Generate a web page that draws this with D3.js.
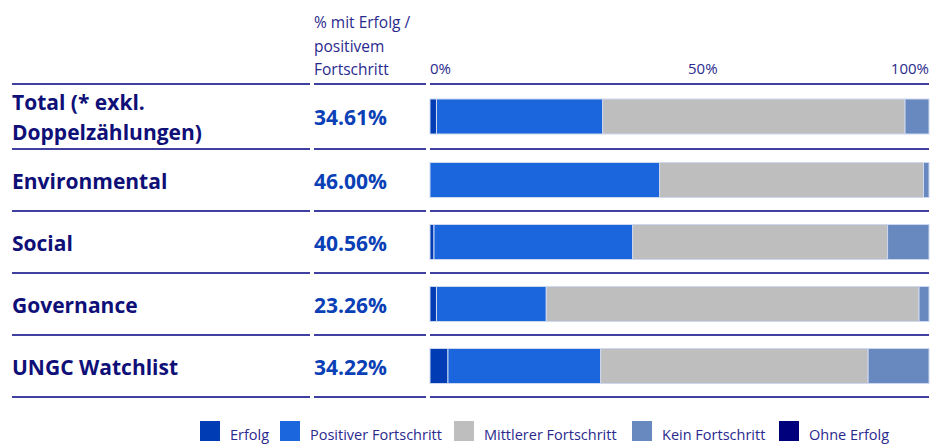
<!DOCTYPE html>
<html>
<head>
<meta charset="utf-8">
<script src="https://cdn.jsdelivr.net/npm/d3@7"></script>
<style>
  body { margin: 0; background: #fff; }
  svg text { font-family: "Open Sans", sans-serif; }
</style>
</head>
<body>
<div id="chart"></div>
<script>
// data
const categories = ["Total (* exkl. Doppelzählungen)", "Environmental", "Social", "Governance", "UNGC Watchlist"];
const categoryLines = [["Total (* exkl.", "Doppelzählungen)"], ["Environmental"], ["Social"], ["Governance"], ["UNGC Watchlist"]];
const rateLabels = ["34.61%", "46.00%", "40.56%", "23.26%", "34.22%"];
const seriesNames = ["Erfolg", "Positiver Fortschritt", "Mittlerer Fortschritt", "Kein Fortschritt", "Ohne Erfolg"];
const erfolg = [1.3, 0, 0.8, 1.3, 3.6];
const positiver = [33.3, 46.0, 39.8, 22.0, 30.6];
const mittlerer = [60.6, 52.9, 51.1, 74.7, 53.6];
const kein = [4.8, 1.1, 8.3, 2.0, 12.2];
const ohne = [0, 0, 0, 0, 0];
const tickValues = [0, 50, 100];
const tickLabels = ["0%", "50%", "100%"];
const headerLines = ["% mit Erfolg /", "positivem", "Fortschritt"];

const colors = ["#003db5", "#1b66dd", "#bebebe", "#6789bf", "#00007d"];
const navy = "#000080";

const width = 946, height = 444;
const svg = d3.select("#chart").append("svg")
  .attr("width", width).attr("height", height);

const rows = categories.map((c, i) => ({
  name: c,
  lines: categoryLines[i],
  rate: rateLabels[i],
  "Erfolg": erfolg[i],
  "Positiver Fortschritt": positiver[i],
  "Mittlerer Fortschritt": mittlerer[i],
  "Kein Fortschritt": kein[i],
  "Ohne Erfolg": ohne[i]
}));

// row boundaries (first row is taller for the two-line label)
const rowHeights = [65, 62, 62, 62, 62];
const tableTop = 84;
const rowTop = [];
let acc = tableTop;
rowHeights.forEach(h => { rowTop.push(acc); acc += h; });
const rowCenter = rowTop.map((t, i) => t + rowHeights[i] / 2);
const barH = 35;

const x = d3.scaleLinear().domain([0, 100]).range([430, 929]);
const color = d3.scaleOrdinal().domain(seriesNames).range(colors);

// header
svg.append("g").selectAll("text")
  .data(headerLines).join("text")
  .attr("x", 314).attr("y", (d, i) => 28 + i * 23.5)
  .attr("font-size", 15.5).attr("fill", "#2a2a8e")
  .text(d => d);

// axis labels
svg.append("g").selectAll("text")
  .data(tickValues).join("text")
  .attr("x", (d, i) => i === 1 ? x(d) + 8.5 : x(d))
  .attr("y", 74)
  .attr("text-anchor", (d, i) => i === 2 ? "end" : "start")
  .attr("font-size", 15).attr("fill", "#2a2a8e")
  .text((d, i) => tickLabels[i]);

// separator lines
const cols = [[12, 310], [314, 426], [430, 929]];
const lineYs = [tableTop, ...rowTop.map((t, i) => t + rowHeights[i])];
const lg = svg.append("g");
lineYs.forEach(y => {
  cols.forEach(c => {
    lg.append("line")
      .attr("x1", c[0]).attr("x2", c[1])
      .attr("y1", y).attr("y2", y)
      .attr("stroke", navy).attr("stroke-width", 1.5);
  });
});

// category labels
const labels = svg.append("g").selectAll("text")
  .data(rows).join("text")
  .attr("x", 12)
  .attr("font-size", 21).attr("font-weight", 700).attr("fill", "#0f0f78");
labels.each(function(d, i) {
  const t = d3.select(this);
  const n = d.lines.length;
  d.lines.forEach((l, j) => {
    t.append("tspan")
      .attr("x", 12)
      .attr("y", rowCenter[i] + 8.5 + (j - (n - 1) / 2) * 30)
      .text(l);
  });
});

// rate values
svg.append("g").selectAll("text")
  .data(rows).join("text")
  .attr("x", 314).attr("y", (d, i) => rowCenter[i] + 8.5)
  .attr("font-size", 21).attr("font-weight", 700).attr("fill", "#0a40b6")
  .text(d => d.rate);

// stacked bars
const stacked = d3.stack().keys(seriesNames)(rows);
svg.append("g").selectAll("g")
  .data(stacked).join("g")
  .attr("fill", d => color(d.key))
  .selectAll("rect")
  .data(d => d.map((v, i) => ({ v, i })).filter(o => o.v[1] - o.v[0] > 0))
  .join("rect")
  .attr("x", o => x(o.v[0]))
  .attr("width", o => x(o.v[1]) - x(o.v[0]))
  .attr("y", o => rowCenter[o.i] - barH / 2)
  .attr("height", barH)
  .attr("stroke", "#cdd8ef").attr("stroke-width", 1);

// legend (swatch positions as in the original layout)
const legendX = [200, 280, 454, 632, 779];
const legend = svg.append("g").selectAll("g")
  .data(seriesNames).join("g")
  .attr("transform", (d, i) => `translate(${legendX[i]},421)`);
legend.append("rect")
  .attr("width", 20).attr("height", 20)
  .attr("fill", d => color(d));
legend.append("text")
  .attr("x", 30).attr("y", 19)
  .attr("font-size", 14.5).attr("fill", "#2a2a8e")
  .text(d => d);
</script>
</body>
</html>
